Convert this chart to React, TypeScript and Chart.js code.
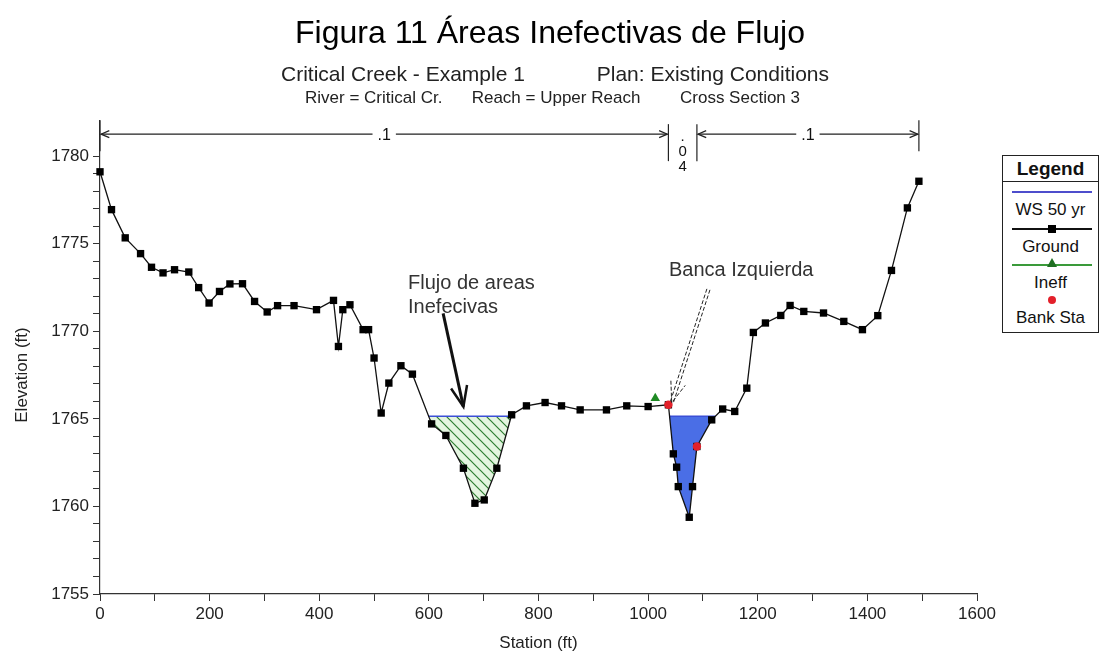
import React, { useEffect, useRef } from 'react';
import { Chart, registerables } from 'chart.js';

Chart.register(...registerables);

const FONT = '"Liberation Sans", Arial, Helvetica, sans-serif';

// ---- Data ----
const groundStations = [
  0, 21, 46, 74, 94, 115, 136, 162, 180, 199, 218, 237, 260, 282, 305, 324, 354, 395,
  426, 435, 443, 456, 480, 490, 500, 513, 527, 549, 570, 605, 631, 663, 684, 701, 724,
  751, 778, 812, 842, 876, 924, 961, 1000, 1037, 1046, 1052, 1055, 1075, 1081, 1089,
  1116, 1136, 1158, 1180, 1192, 1214, 1242, 1259, 1284, 1320, 1357, 1391, 1419, 1444,
  1473, 1494,
];
const groundElevations = [
  1779.1, 1776.94, 1775.33, 1774.43, 1773.65, 1773.33, 1773.51, 1773.38, 1772.49, 1771.61,
  1772.27, 1772.7, 1772.71, 1771.7, 1771.1, 1771.46, 1771.46, 1771.23, 1771.76, 1769.13,
  1771.23, 1771.51, 1770.09, 1770.09, 1768.47, 1765.33, 1767.04, 1768.03, 1767.55, 1764.71,
  1764.05, 1762.18, 1760.18, 1760.37, 1762.18, 1765.23, 1765.74, 1765.93, 1765.74, 1765.51,
  1765.51, 1765.74, 1765.7, 1765.8, 1763.0, 1762.24, 1761.13, 1759.38, 1761.13, 1763.42,
  1764.94, 1765.56, 1765.42, 1766.75, 1769.93, 1770.47, 1770.9, 1771.47, 1771.13, 1771.04,
  1770.56, 1770.09, 1770.89, 1773.47, 1777.04, 1778.56,
];
const wsElevation = 1765.15;
const ineffStations = [1013];
const ineffElevations = [1766.18];
const bankStations = [1037, 1089];
const bankElevations = [1765.8, 1763.42];
const manningStations = [0, 1037, 1089, 1494];
const manningLabels = ['.1', '.04', '.1'];
const manningElevation = 1781.25;

const xTicks = [0, 100, 200, 300, 400, 500, 600, 700, 800, 900, 1000, 1100, 1200, 1300, 1400, 1500, 1600];
const xTickLabels = ['0', '', '200', '', '400', '', '600', '', '800', '', '1000', '', '1200', '', '1400', '', '1600'];
const yTicks = [1755, 1756, 1757, 1758, 1759, 1760, 1761, 1762, 1763, 1764, 1765, 1766, 1767, 1768, 1769, 1770, 1771, 1772, 1773, 1774, 1775, 1776, 1777, 1778, 1779, 1780];
const yTickLabels = ['1755', '', '', '', '', '1760', '', '', '', '', '1765', '', '', '', '', '1770', '', '', '', '', '1775', '', '', '', '', '1780'];

const mainTitle = 'Figura 11 Áreas Inefectivas de Flujo';
const subTitleA = ['Critical Creek - Example 1', 'Plan: Existing Conditions'];
const subTitleB = ['River = Critical Cr.', 'Reach = Upper Reach', 'Cross Section 3'];
const xTitle = 'Station (ft)';
const yTitle = 'Elevation (ft)';

const noteTexts = [['Flujo de areas', 'Inefecivas'], ['Banca Izquierda']];
const noteStations = [562, 1038];
const noteElevations = [1772.75, 1773.49];
const arrowFrom = [[626, 1771.02], [1110, 1772.39]];
const arrowTo = [[663, 1765.69], [1043, 1765.92]];

// wet regions of the water surface over the ground profile
function wetRegions(xs: number[], ys: number[], ws: number) {
  const regions: { x: number; y: number }[][] = [];
  let cur: { x: number; y: number }[] | null = null;
  for (let i = 0; i < xs.length; i++) {
    const below = ys[i] < ws;
    if (below && !cur && i > 0) {
      const t = (ys[i - 1] - ws) / (ys[i - 1] - ys[i]);
      cur = [{ x: xs[i - 1] + t * (xs[i] - xs[i - 1]), y: ws }];
    }
    if (below && cur) cur.push({ x: xs[i], y: ys[i] });
    if (!below && cur) {
      const t = (ws - ys[i - 1]) / (ys[i] - ys[i - 1]);
      cur.push({ x: xs[i - 1] + t * (xs[i] - xs[i - 1]), y: ws });
      regions.push(cur);
      cur = null;
    }
  }
  return regions;
}

function arrowHead(ctx: CanvasRenderingContext2D, fx: number, fy: number, tx: number, ty: number, len: number, spread: number) {
  const ang = Math.atan2(ty - fy, tx - fx);
  ctx.beginPath();
  ctx.moveTo(tx - len * Math.cos(ang - spread), ty - len * Math.sin(ang - spread));
  ctx.lineTo(tx, ty);
  ctx.lineTo(tx - len * Math.cos(ang + spread), ty - len * Math.sin(ang + spread));
  ctx.stroke();
}

const overlayPlugin = {
  id: 'overlay',
  afterDraw(chart: any) {
    const { ctx, scales } = chart;
    const x = scales.x;
    const y = scales.y;
    ctx.save();
    ctx.fillStyle = '#000';
    ctx.textBaseline = 'middle';
    // titles
    ctx.textAlign = 'center';
    ctx.font = `32px ${FONT}`;
    ctx.fillText(mainTitle, 550, 34);
    ctx.fillStyle = '#222';
    ctx.font = `21px ${FONT}`;
    ctx.textAlign = 'left';
    ctx.fillText(subTitleA[0], 281, 75);
    ctx.textAlign = 'right';
    ctx.fillText(subTitleA[1], 829, 75);
    ctx.font = `17px ${FONT}`;
    ctx.textAlign = 'left';
    ctx.fillText(subTitleB[0], 305, 98);
    ctx.textAlign = 'center';
    ctx.fillText(subTitleB[1], 556, 98);
    ctx.textAlign = 'right';
    ctx.fillText(subTitleB[2], 800, 98);

    // axis titles
    ctx.font = `17px ${FONT}`;
    ctx.textAlign = 'center';
    ctx.fillText(xTitle, (x.left + x.right) / 2, 643);
    ctx.save();
    ctx.translate(22, y.getPixelForValue((yTicks[0] + yTicks[yTicks.length - 1]) / 2));
    ctx.rotate(-Math.PI / 2);
    ctx.fillText(yTitle, 0, 0);
    ctx.restore();

    // Manning's n bracket
    const yb = y.getPixelForValue(manningElevation);
    const px = manningStations.map((s) => x.getPixelForValue(s));
    ctx.strokeStyle = '#222';
    ctx.lineWidth = 1.2;
    px.forEach((p: number, i: number) => {
      const inner = i > 0 && i < px.length - 1;
      ctx.beginPath();
      ctx.moveTo(p, inner ? yb - 10 : yb - 14);
      ctx.lineTo(p, inner ? yb + 27 : yb + 17);
      ctx.stroke();
    });
    ctx.fillStyle = '#111';
    for (let i = 0; i < manningLabels.length; i++) {
      const a = px[i];
      const b = px[i + 1];
      const mid = (a + b) / 2;
      const label = manningLabels[i];
      if (b - a > 60) {
        ctx.font = `16px ${FONT}`;
        const tw = ctx.measureText(label).width;
        ctx.beginPath();
        ctx.moveTo(a + 1, yb);
        ctx.lineTo(mid - tw / 2 - 5, yb);
        ctx.moveTo(mid + tw / 2 + 5, yb);
        ctx.lineTo(b - 1, yb);
        ctx.stroke();
        arrowHead(ctx, a + 20, yb, a + 1, yb, 9, 0.4);
        arrowHead(ctx, b - 20, yb, b - 1, yb, 9, 0.4);
        ctx.textAlign = 'center';
        ctx.fillText(label, mid, yb + 1);
      } else {
        ctx.font = `15px ${FONT}`;
        ctx.textAlign = 'center';
        const chars = label.split('');
        chars.forEach((c, k) => ctx.fillText(c, mid, yb + 3 + k * 15));
      }
    }

    // annotations
    ctx.fillStyle = '#333';
    ctx.font = `20px ${FONT}`;
    ctx.textAlign = 'left';
    noteTexts.forEach((lines, i) => {
      const tx = x.getPixelForValue(noteStations[i]);
      const ty = y.getPixelForValue(noteElevations[i]);
      lines.forEach((ln, k) => ctx.fillText(ln, tx, ty + k * 24));
    });
    // arrow 1: thick solid
    {
      const fx = x.getPixelForValue(arrowFrom[0][0]);
      const fy = y.getPixelForValue(arrowFrom[0][1]);
      const tx = x.getPixelForValue(arrowTo[0][0]);
      const ty = y.getPixelForValue(arrowTo[0][1]);
      ctx.strokeStyle = '#111';
      ctx.lineWidth = 3;
      ctx.beginPath();
      ctx.moveTo(fx, fy);
      ctx.lineTo(tx, ty);
      ctx.stroke();
      ctx.lineWidth = 2.5;
      arrowHead(ctx, fx, fy, tx, ty, 22, 0.38);
    }
    // arrow 2: double dashed
    {
      const fx = x.getPixelForValue(arrowFrom[1][0]);
      const fy = y.getPixelForValue(arrowFrom[1][1]);
      const tx = x.getPixelForValue(arrowTo[1][0]);
      const ty = y.getPixelForValue(arrowTo[1][1]);
      const ang = Math.atan2(ty - fy, tx - fx);
      const nx = -Math.sin(ang) * 1.6;
      const ny = Math.cos(ang) * 1.6;
      ctx.strokeStyle = '#222';
      ctx.lineWidth = 1;
      ctx.setLineDash([4, 2]);
      ctx.beginPath();
      ctx.moveTo(fx + nx, fy + ny);
      ctx.lineTo(tx + nx, ty + ny);
      ctx.moveTo(fx - nx, fy - ny);
      ctx.lineTo(tx - nx, ty - ny);
      ctx.stroke();
      arrowHead(ctx, fx, fy, tx, ty, 22, 0.35);
      ctx.setLineDash([]);
    }
    ctx.restore();
  },
};

export default function App() {
  const ref = useRef<HTMLCanvasElement | null>(null);

  useEffect(() => {
    const canvas = ref.current;
    if (!canvas) return;
    const ctx = canvas.getContext('2d')!;

    // hatch pattern for ineffective area
    const pc = document.createElement('canvas');
    pc.width = 10;
    pc.height = 10;
    const pctx = pc.getContext('2d')!;
    pctx.fillStyle = '#e4f5e0';
    pctx.fillRect(0, 0, 10, 10);
    pctx.strokeStyle = '#2e7d32';
    pctx.lineWidth = 1.2;
    pctx.beginPath();
    pctx.moveTo(-1, -1);
    pctx.lineTo(11, 11);
    pctx.moveTo(-1, 9);
    pctx.lineTo(1, 11);
    pctx.moveTo(9, -1);
    pctx.lineTo(11, 1);
    pctx.stroke();
    const hatch = ctx.createPattern(pc, 'repeat');

    const regions = wetRegions(groundStations, groundElevations, wsElevation);
    const wsData: { x: number; y: number | null }[] = [];
    regions.forEach((r, i) => {
      wsData.push({ x: r[0].x, y: wsElevation });
      wsData.push({ x: r[r.length - 1].x, y: wsElevation });
      if (i < regions.length - 1) wsData.push({ x: (r[r.length - 1].x + regions[i + 1][0].x) / 2, y: null });
    });

    const regionSets = regions.map((r) => {
      const isIneff = r[r.length - 1].x < ineffStations[0];
      return {
        label: isIneff ? 'ineff area' : 'wet area',
        data: r,
        fill: 'shape',
        backgroundColor: isIneff ? hatch : '#4a6ee6',
        borderWidth: 0,
        pointRadius: 0,
        order: 5,
      };
    });

    Chart.defaults.font.family = FONT;

    const chart = new Chart(canvas, {
      type: 'line',
      data: {
        datasets: [
          {
            label: 'Bank Sta',
            data: bankStations.map((s, i) => ({ x: s, y: bankElevations[i] })),
            showLine: false,
            pointStyle: 'circle',
            pointRadius: 4.2,
            pointBackgroundColor: '#e3202a',
            pointBorderWidth: 0,
            order: 0,
          },
          {
            label: 'Ineff',
            data: ineffStations.map((s, i) => ({ x: s, y: ineffElevations[i] })),
            showLine: false,
            pointStyle: 'triangle',
            pointRadius: 5.5,
            pointBackgroundColor: '#1f8a24',
            pointBorderWidth: 0,
            order: 0,
          },
          {
            label: 'Ground',
            data: groundStations.map((s, i) => ({ x: s, y: groundElevations[i] })),
            borderColor: '#111',
            borderWidth: 1.3,
            pointStyle: 'rect',
            pointRadius: 5.2,
            pointBackgroundColor: '#000',
            pointBorderWidth: 0,
            clip: false,
            order: 1,
          },
          {
            label: 'WS 50 yr',
            data: wsData,
            borderColor: '#3b4fd6',
            borderWidth: 1.5,
            pointRadius: 0,
            spanGaps: false,
            order: 2,
          },
          ...regionSets,
        ] as any,
      },
      options: {
        responsive: false,
        animation: false,
        events: [],
        layout: { padding: { top: 121, right: 123, bottom: 0, left: 0 } },
        plugins: { legend: { display: false }, tooltip: { enabled: false }, title: { display: false } },
        scales: {
          x: {
            type: 'linear',
            min: 0,
            max: 1600,
            afterBuildTicks: (s: any) => {
              s.ticks = xTicks.map((v) => ({ value: v }));
            },
            afterFit: (s: any) => {
              s.height = 70;
            },
            ticks: {
              autoSkip: false,
              maxRotation: 0,
              padding: 3,
              color: '#222',
              font: { size: 17 },
              callback: (_v: any, i: number) => xTickLabels[i],
            },
            grid: { drawOnChartArea: false, drawTicks: true, tickLength: 7, color: '#333' },
            border: { display: true, color: '#333', width: 1.2 },
          },
          y: {
            type: 'linear',
            min: 1755,
            max: 1782,
            afterBuildTicks: (s: any) => {
              s.ticks = yTicks.map((v) => ({ value: v }));
            },
            afterFit: (s: any) => {
              s.width = 100;
            },
            ticks: {
              autoSkip: false,
              padding: 4,
              color: '#222',
              font: { size: 17 },
              callback: (_v: any, i: number) => yTickLabels[i],
            },
            grid: { drawOnChartArea: false, drawTicks: true, tickLength: 7, color: '#333' },
            border: { display: true, color: '#333', width: 1.2 },
          },
        },
      } as any,
      plugins: [overlayPlugin],
    });
    return () => chart.destroy();
  }, []);

  const legendText = (text: string, center: number, bold = false) => (
    <div
      style={{
        position: 'absolute',
        left: 0,
        right: 0,
        top: center - 11,
        height: 22,
        lineHeight: '22px',
        textAlign: 'center',
        fontSize: bold ? 19 : 17,
        fontWeight: bold ? 'bold' : 'normal',
        color: '#111',
        whiteSpace: 'nowrap',
      }}
    >
      {text}
    </div>
  );
  const legendLine = (color: string, center: number) => (
    <div style={{ position: 'absolute', left: 9, width: 80, top: center - 1, height: 2, background: color }} />
  );

  return (
    <div style={{ position: 'absolute', left: 0, top: 0, width: 1100, height: 664, background: '#fff', overflow: 'hidden' }}>
      <canvas ref={ref} width={1100} height={664} style={{ display: 'block' }} />
      <div
        style={{
          position: 'absolute',
          left: 1002,
          top: 155,
          width: 97,
          height: 178,
          border: '1.5px solid #222',
          boxSizing: 'border-box',
          background: '#fff',
          fontFamily: FONT,
        }}
      >
        {legendText('Legend', 13, true)}
        <div style={{ position: 'absolute', left: 0, right: 0, top: 25, height: 0, borderTop: '1.5px solid #222' }} />
        {legendLine('#4d4dcc', 36)}
        {legendText('WS 50 yr', 54)}
        {legendLine('#111', 73)}
        <div style={{ position: 'absolute', left: 45, top: 69, width: 8, height: 8, background: '#000' }} />
        {legendText('Ground', 91)}
        {legendLine('#3a9a3a', 109)}
        <div
          style={{
            position: 'absolute',
            left: 44,
            top: 102,
            width: 0,
            height: 0,
            borderLeft: '5px solid transparent',
            borderRight: '5px solid transparent',
            borderBottom: '9px solid #1f6f22',
          }}
        />
        {legendText('Ineff', 127)}
        <div style={{ position: 'absolute', left: 45, top: 140, width: 8, height: 8, borderRadius: 4, background: '#e3202a' }} />
        {legendText('Bank Sta', 162)}
      </div>
    </div>
  );
}
